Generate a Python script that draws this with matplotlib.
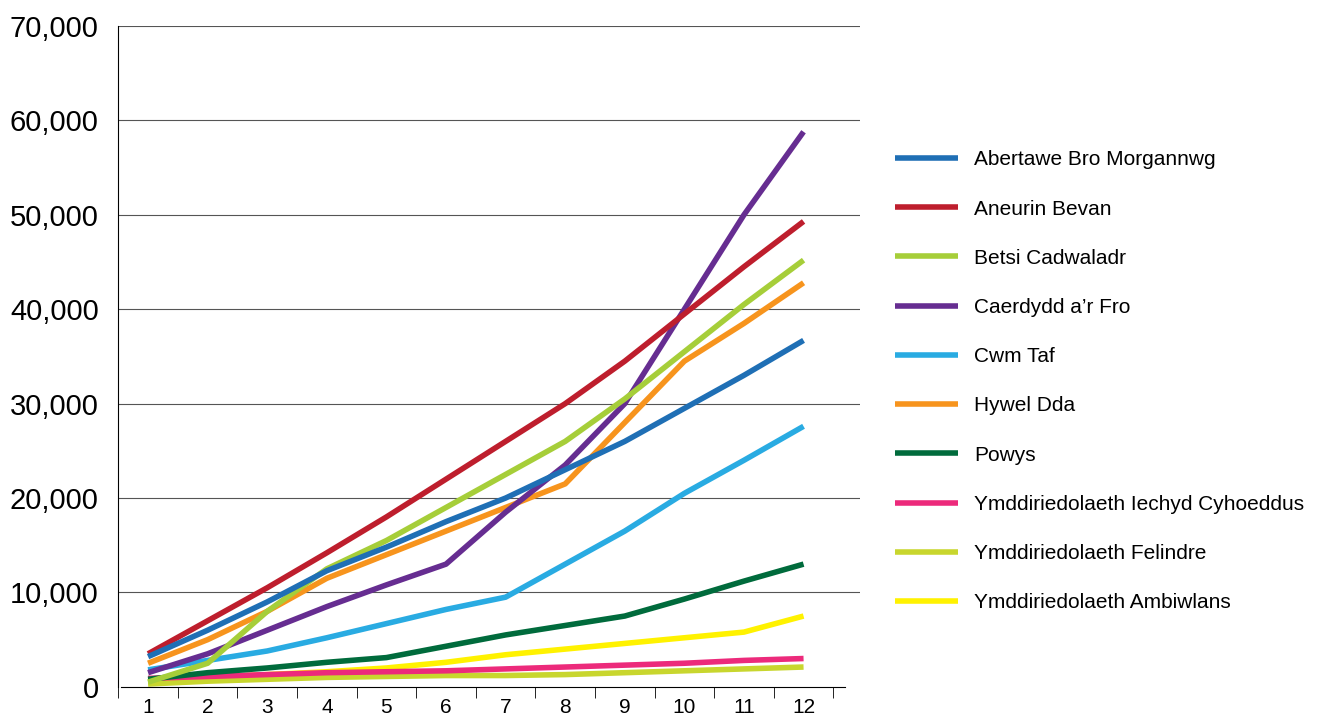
import numpy as np
import matplotlib.pyplot as plt

plt.rcParams['font.family'] = ['Liberation Sans', 'DejaVu Sans']

months = list(range(1, 13))
names = ["Abertawe Bro Morgannwg", "Aneurin Bevan", "Betsi Cadwaladr", "Caerdydd a\u2019r Fro",
         "Cwm Taf", "Hywel Dda", "Powys", "Ymddiriedolaeth Iechyd Cyhoeddus",
         "Ymddiriedolaeth Felindre", "Ymddiriedolaeth Ambiwlans"]
colours = ["#1f6fb5", "#be1e2d", "#a6ce39", "#662d91", "#29abe2", "#f7941d",
           "#006b3c", "#ec2a7b", "#c8d62e", "#fff200"]

abertawe = [3200, 6000, 9000, 12300, 14800, 17500, 20000, 23000, 26000, 29500, 33000, 36700]
aneurin = [3500, 7000, 10500, 14200, 18000, 22000, 26000, 30000, 34500, 39500, 44500, 49300]
betsi = [500, 2500, 8000, 12500, 15500, 19000, 22500, 26000, 30500, 35500, 40500, 45200]
caerdydd = [1500, 3500, 6000, 8500, 10800, 13000, 18500, 23500, 30000, 40000, 50000, 58800]
cwmtaf = [1800, 2800, 3800, 5200, 6700, 8200, 9500, 13000, 16500, 20500, 24000, 27600]
hywel = [2500, 5000, 8000, 11500, 14000, 16500, 19000, 21500, 28000, 34500, 38500, 42800]
powys = [800, 1500, 2000, 2600, 3100, 4300, 5500, 6500, 7500, 9300, 11200, 13000]
iechyd = [900, 1100, 1300, 1500, 1600, 1700, 1900, 2100, 2300, 2500, 2800, 3000]
felindre = [300, 600, 800, 1000, 1100, 1200, 1200, 1300, 1500, 1700, 1900, 2100]
ambiwlans = [500, 1000, 1300, 1600, 2000, 2600, 3400, 4000, 4600, 5200, 5800, 7500]
series = [abertawe, aneurin, betsi, caerdydd, cwmtaf, hywel, powys, iechyd, felindre, ambiwlans]

fig = plt.figure(figsize=[13.44, 7.23], dpi=100)
ax = fig.add_axes([0.088, 0.05, 0.552, 0.914])

for y in range(10000, 70001, 10000):
    ax.axhline(y, color="#555555", linewidth=0.8, zorder=0)

# draw in reverse so the first series sits on top
for vals, name, c in list(zip(series, names, colours))[::-1]:
    ax.plot(months, vals, color=c, linewidth=4, label=name, solid_capstyle="butt")

ax.set_xlim(0.55, 12.95)
ax.set_ylim(0, 70000)
ax.set_yticks(range(0, 70001, 10000))
ax.set_yticklabels([f"{v:,}" for v in range(0, 70001, 10000)], fontsize=21)
ax.set_xticks(months)
ax.set_xticklabels([str(m) for m in months], fontsize=15)
ax.tick_params(axis="x", length=0, pad=8)
ax.set_xticks(np.arange(0.5, 13, 1), minor=True)
ax.tick_params(axis="x", which="minor", length=8, direction="out")
ax.tick_params(axis="y", length=0, pad=14)
for s in ["top", "right"]:
    ax.spines[s].set_visible(False)
ax.spines["bottom"].set_bounds(0.55, 12.7)

h, l = ax.get_legend_handles_labels()
fig.legend(h[::-1], l[::-1], loc="upper left", bbox_to_anchor=(0.652, 0.818),
           frameon=False, fontsize=15, labelspacing=1.45, handlelength=3.0)

fig.savefig("out.png")
